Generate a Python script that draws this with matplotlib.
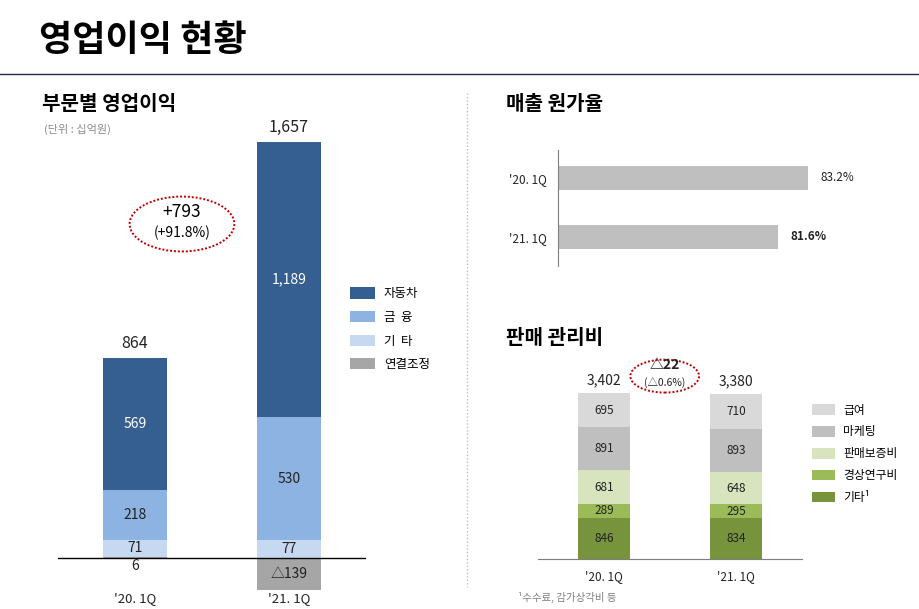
import matplotlib
matplotlib.use("Agg")
import matplotlib.pyplot as plt
from matplotlib.patches import Ellipse, Patch
from matplotlib.lines import Line2D
import matplotlib.transforms as mtransforms

plt.rcParams['font.family'] = ['Noto Sans CJK KR', 'DejaVu Sans']

# 1. Data
periods = ["'20. 1Q", "'21. 1Q"]

# 부문별 영업이익 (십억원)
op_auto = [569, 1189]
op_finance = [218, 530]
op_other = [71, 77]
op_consol = [6, -139]
op_total = [864, 1657]
op_change = ["+793", "(+91.8%)"]
op_labels = ["자동차", "금  융", "기  타", "연결조정"]

# 매출 원가율 (%)
cost_ratio = [83.2, 81.6]

# 판매 관리비 (십억원)
sga_salary = [695, 710]
sga_marketing = [891, 893]
sga_warranty = [681, 648]
sga_rnd = [289, 295]
sga_other = [846, 834]
sga_total = [3402, 3380]
sga_change = ["△22", "(△0.6%)"]
sga_labels = ["급여", "마케팅", "판매보증비", "경상연구비", "기타¹"]

TXT = "#222222"
op_colors = ["#365F91", "#8DB3E2", "#C6D9F1", "#A6A6A6"]
sga_colors = ["#D9D9D9", "#BFBFBF", "#D7E4BD", "#9BBB59", "#77933C"]


def fmt(v):
    return f"{v:,}" if v >= 0 else f"△{abs(v):,}"


W, H = 920, 609
fig = plt.figure(figsize=(W / 100, H / 100), dpi=100)


def box(left, top, right, bottom):
    return [left / W, 1 - bottom / H, (right - left) / W, (bottom - top) / H]


# 2. Page title and separators
fig.text(39 / W, 1 - 40 / H, "영업이익 현황", fontsize=26, weight="bold",
         va="center", ha="left", color="black")
fig.add_artist(Line2D([0, 1], [1 - 74 / H] * 2, transform=fig.transFigure,
                      color="#1F2A3A", lw=1.0))
fig.add_artist(Line2D([467 / W] * 2, [1 - 93 / H, 1 - 587 / H], transform=fig.transFigure,
                      color="#BFBFBF", lw=1.0, linestyle=(0, (1, 1.5))))

fig.text(42 / W, 1 - 104 / H, "부문별 영업이익", fontsize=14.5, weight="bold", va="center")
fig.text(44 / W, 1 - 129 / H, "(단위 : 십억원)", fontsize=8, color="#8C8C8C", va="center")
fig.text(506 / W, 1 - 104 / H, "매출 원가율", fontsize=14.5, weight="bold", va="center")
fig.text(506 / W, 1 - 338 / H, "판매 관리비", fontsize=14.5, weight="bold", va="center")

# 3. Left chart: operating profit by segment
ax1 = fig.add_axes(box(58, 120, 366, 600))
ax1.set_xlim(-0.5, 1.5)
ax1.set_ylim(-181, 1891)
ax1.axis("off")
bw = 0.415
for i in range(len(periods)):
    c = op_consol[i]
    base = max(c, 0)
    ax1.bar(i, c, bottom=0, width=bw, color=op_colors[3], linewidth=0)
    segs = [(op_other[i], op_colors[2], TXT), (op_finance[i], op_colors[1], TXT),
            (op_auto[i], op_colors[0], "white")]
    for val, col, tc in segs:
        ax1.bar(i, val, bottom=base, width=bw, color=col, linewidth=0)
        ax1.text(i, base + val / 2, fmt(val), ha="center", va="center",
                 fontsize=10, color=tc)
        base += val
    ax1.annotate(fmt(op_total[i]), (i, base), xytext=(0, 4), textcoords="offset points",
                 ha="center", va="bottom", fontsize=11.5, color=TXT)
    if c >= 0:
        ax1.annotate(fmt(c), (i, 0), xytext=(0, -1), textcoords="offset points",
                     ha="center", va="top", fontsize=10, color=TXT)
    else:
        ax1.text(i, c / 2, fmt(c), ha="center", va="center", fontsize=10, color=TXT)
ax1.axhline(0, color="black", lw=1.0)
trans = mtransforms.blended_transform_factory(ax1.transData, fig.transFigure)
for i, p in enumerate(periods):
    ax1.text(i, 1 - 599 / H, p, transform=trans, ha="center", va="center",
             fontsize=9.5, color=TXT)

ax1.add_patch(Ellipse((0.305, 1442), 0.68, 237, fill=False, edgecolor="#C00000",
                      lw=1.4, linestyle=(0, (1, 1))))
ax1.text(0.305, 1496, op_change[0], ha="center", va="center", fontsize=12.5, color="black")
ax1.text(0.305, 1402, op_change[1], ha="center", va="center", fontsize=10, color="black")

handles = [Patch(facecolor=op_colors[0]), Patch(facecolor=op_colors[1]),
           Patch(facecolor=op_colors[2]), Patch(facecolor=op_colors[3])]
ax1.legend(handles, op_labels, loc="upper left", bbox_to_anchor=(339 / W, 1 - 276 / H),
           bbox_transform=fig.transFigure, frameon=False, fontsize=9,
           handlelength=2.0, handleheight=1.0, handletextpad=0.7, labelspacing=0.85)

# 4. Top right: cost of sales ratio
ax2 = fig.add_axes(box(558, 150, 900, 266))
ax2.barh(range(len(periods)), cost_ratio, height=0.4, color="#BFBFBF", linewidth=0)
ax2.set_xlim(70, 88.06)
ax2.set_ylim(1.49, -0.47)
ax2.set_yticks(range(len(periods)))
ax2.set_yticklabels(periods, fontsize=8.5, color=TXT)
ax2.tick_params(axis="y", length=0, pad=8)
ax2.set_xticks([])
for s in ["top", "right", "bottom"]:
    ax2.spines[s].set_visible(False)
ax2.spines["left"].set_color("#7F7F7F")
for i, v in enumerate(cost_ratio):
    ax2.annotate(f"{v:.1f}%", (v, i), xytext=(9, 0), textcoords="offset points",
                 ha="left", va="center", fontsize=8.5, color=TXT,
                 weight="bold" if i == len(cost_ratio) - 1 else "normal")

# 5. Bottom right: SG&A
ax3 = fig.add_axes(box(538, 340, 802, 559))
ax3.set_xlim(-0.5, 1.5)
ax3.set_ylim(0, 4490)
sbw = 0.39
for i in range(len(periods)):
    base = 0
    segs = [sga_other[i], sga_rnd[i], sga_warranty[i], sga_marketing[i], sga_salary[i]]
    cols = sga_colors[::-1]
    for val, col in zip(segs, cols):
        ax3.bar(i, val, bottom=base, width=sbw, color=col, linewidth=0)
        ax3.text(i, base + val / 2, fmt(val), ha="center", va="center",
                 fontsize=8.5, color=TXT)
        base += val
    ax3.annotate(fmt(sga_total[i]), (i, base), xytext=(0, 4), textcoords="offset points",
                 ha="center", va="bottom", fontsize=10, color=TXT)
ax3.set_xticks(range(len(periods)))
ax3.set_xticklabels(periods, fontsize=8.5, color=TXT)
ax3.tick_params(axis="x", length=0, pad=8)
ax3.set_yticks([])
for s in ["top", "right", "left"]:
    ax3.spines[s].set_visible(False)
ax3.spines["bottom"].set_color("#7F7F7F")
ax3.patch.set_alpha(0)

ax3.add_patch(Ellipse((0.46, 3750), 0.52, 676, fill=False, edgecolor="#C00000",
                      lw=1.4, linestyle=(0, (1, 1))))
ax3.text(0.46, 3975, sga_change[0], ha="center", va="center", fontsize=10,
         weight="bold", color=TXT)
ax3.text(0.46, 3627, sga_change[1], ha="center", va="center", fontsize=7.5, color=TXT)

handles = [Patch(facecolor=c) for c in sga_colors]
ax3.legend(handles, sga_labels, loc="upper left", bbox_to_anchor=(801 / W, 1 - 393 / H),
           bbox_transform=fig.transFigure, frameon=False, fontsize=8.5,
           handlelength=2.0, handleheight=1.0, handletextpad=0.7, labelspacing=0.75)

fig.text(518 / W, 1 - 597 / H, "¹수수료, 감가상각비 등", fontsize=7.5, color="#7F7F7F",
         va="center", ha="left")

fig.savefig("out.png", dpi=100)
